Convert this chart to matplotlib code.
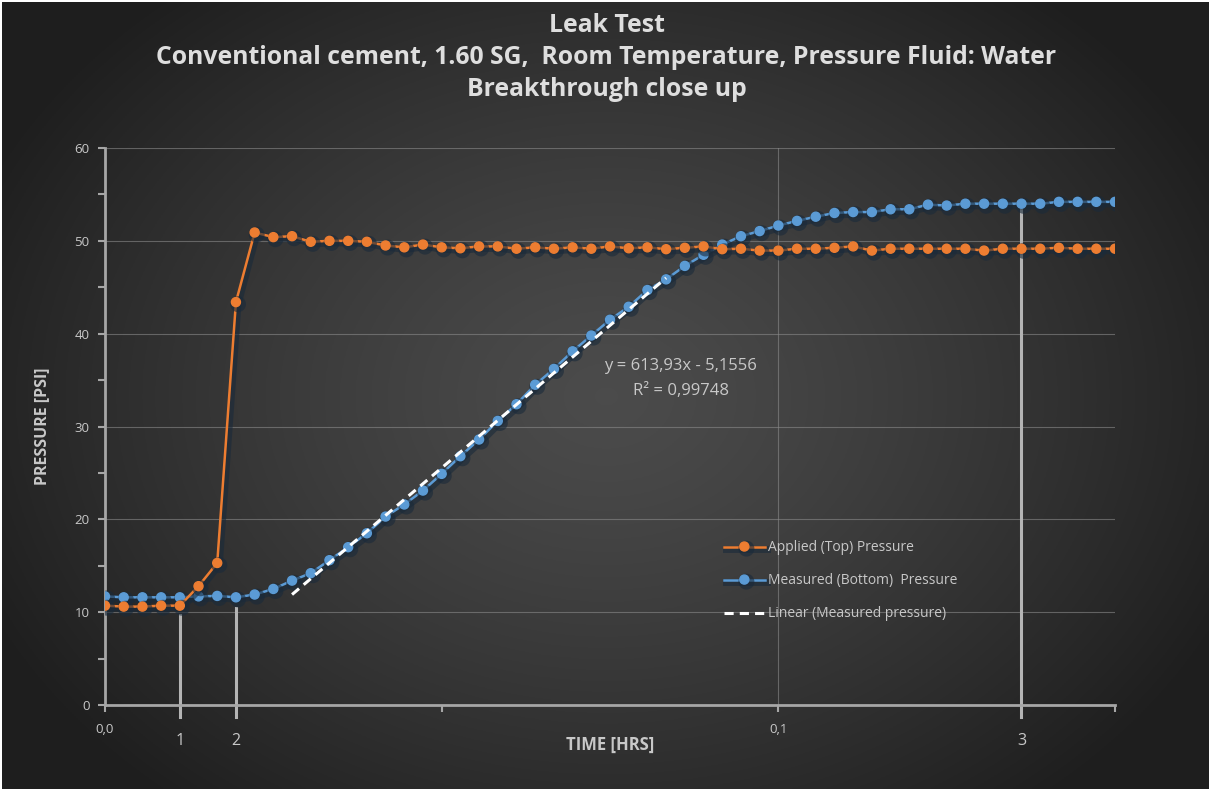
import numpy as np
import matplotlib
matplotlib.use("Agg")
import matplotlib.pyplot as plt
import matplotlib.patheffects as pe

# samples logged every 10 s, time axis in hours
elapsed_s = np.arange(0, 550, 10)
time_hrs = elapsed_s / 3600.0

applied_top = [10.7, 10.6, 10.6, 10.7, 10.7, 12.8, 15.3, 43.4, 50.9,
               50.4, 50.5, 49.9, 50.0, 50.0, 49.9, 49.5, 49.3, 49.6,
               49.3, 49.2, 49.4, 49.4, 49.15, 49.3, 49.15, 49.3, 49.15, 49.4, 49.2, 49.3, 49.1, 49.25,
               49.4, 49.1, 49.15, 48.95, 48.95, 49.15, 49.15, 49.25, 49.4, 48.95, 49.15, 49.15,
               49.15, 49.15, 49.15, 48.95, 49.15, 49.15, 49.15, 49.25, 49.15, 49.15, 49.15]

measured_bottom = [11.7, 11.6, 11.6, 11.6, 11.6, 11.7, 11.75, 11.6, 11.9,
                   12.5, 13.4, 14.2, 15.6, 17.0, 18.5, 20.3, 21.6, 23.1, 24.9,
                   26.8, 28.6, 30.6, 32.4, 34.5, 36.2, 38.1, 39.8, 41.5, 42.9, 44.7, 45.85, 47.3,
                   48.5, 49.6, 50.5, 51.05, 51.65, 52.15, 52.6, 53.0, 53.1, 53.1, 53.4, 53.4,
                   53.9, 53.8, 54.0, 54.0, 54.0, 54.0, 54.0, 54.2, 54.2, 54.2, 54.2]

# linear fit of the breakthrough section
fit_slope = 613.93
fit_intercept = -5.1556
fit_r2 = 0.99748
fit_range = (10, 30)

# event markers (sample index, label, top of marker line)
event_idx = [4, 7, 49]
event_labels = ["1", "2", "3"]
event_tops = [9.7, 10.5, 53.9]

ORANGE = "#ED7D31"
BLUE = "#5B9BD5"
TXT = "#c8c8c8"
AXC = "#a6a6a6"

plt.rcParams["font.family"] = ["Open Sans", "DejaVu Sans"]

fig = plt.figure(figsize=(12.13, 7.89), dpi=100, facecolor="white")

# dark radial background
bg = fig.add_axes([0.002, 0.0, 0.995, 0.997])
yy, xx = np.mgrid[0:400, 0:600]
r = np.sqrt(((xx - 300) / 330.0) ** 2 + ((yy - 200) / 260.0) ** 2)
shade = np.clip(0.295 - 0.17 * r ** 1.3, 0.12, 0.30)
bg.imshow(np.dstack([shade] * 3), aspect="auto", extent=[0, 1, 0, 1])
bg.axis("off")

ax = fig.add_axes([105 / 1213, 1 - 705 / 789, 1010 / 1213, 557 / 789])
ax.set_facecolor("none")

shadow = [pe.SimpleLineShadow(offset=(1.5, -1.5), shadow_color="#1a2a3a", alpha=0.6, linewidth=5),
          pe.Normal()]

ax.plot(time_hrs, applied_top, color=ORANGE, lw=1.8, marker="o", ms=6.5,
        label="Applied (Top) Pressure", zorder=4, path_effects=shadow)
ax.plot(time_hrs, measured_bottom, color=BLUE, lw=1.8, marker="o", ms=6.5,
        label="Measured (Bottom)  Pressure", zorder=3, path_effects=shadow)

fx = np.array([time_hrs[fit_range[0]], time_hrs[fit_range[1]]])
ax.plot(fx, fit_slope * fx + fit_intercept, color="white", lw=2.2, ls=(0, (3, 2)),
        label="Linear (Measured pressure)", zorder=5)

ax.text(0.0855, 36.5, f"y = {fit_slope:.2f}x - {abs(fit_intercept):.4f}".replace(".", ","),
        ha="center", va="center", color=TXT, fontsize=12)
ax.text(0.0855, 33.8, f"R² = {fit_r2:.5f}".replace(".", ","),
        ha="center", va="center", color=TXT, fontsize=12)

for i, lab, top in zip(event_idx, event_labels, event_tops):
    ax.plot([time_hrs[i], time_hrs[i]], [-1.3, top], color="#b4b4b4", lw=2.2,
            clip_on=False, zorder=2)
    ax.text(time_hrs[i], -3.9, lab, ha="center", va="center", color=TXT, fontsize=11.5)

ax.set_xlim(0, 0.15)
ax.set_ylim(0, 60)
ax.set_yticks(range(0, 61, 10))
ax.set_yticks(range(5, 60, 10), minor=True)
ax.set_xticks([0, 0.1])
ax.set_xticklabels(["0,0", "0,1"])
ax.set_xticks([0.05, 0.15], minor=True)

ax.grid(axis="y", which="major", color="#8a8a8a", lw=0.8, alpha=0.6)
ax.axvline(0.1, color="#8a8a8a", lw=0.8, alpha=0.6, zorder=0)

for s in ("top", "right"):
    ax.spines[s].set_visible(False)
for s in ("left", "bottom"):
    ax.spines[s].set_color(AXC)
    ax.spines[s].set_linewidth(2)
ax.tick_params(which="both", colors=AXC, width=1.5, length=5)
ax.tick_params(axis="both", labelcolor=TXT, labelsize=9.5)
ax.tick_params(axis="x", pad=8)
ax.tick_params(axis="y", pad=6)

ax.set_xlabel("TIME [HRS]", color=TXT, fontsize=12, fontweight="bold", labelpad=0)
ax.set_ylabel("PRESSURE [PSI]", color=TXT, fontsize=11.5, fontweight="bold", labelpad=18)

leg = ax.legend(loc="upper left", bbox_to_anchor=(0.6, 0.318), frameon=False,
                fontsize=10, labelcolor=TXT, handlelength=3.0, handletextpad=0.2,
                labelspacing=1.3)

title_kw = dict(ha="center", va="center", color="#dedede", fontsize=17.8, fontweight="bold")
fig.text(0.5, 1 - 25 / 789, "Leak Test", **title_kw)
fig.text(0.5, 1 - 58 / 789,
         "Conventional cement, 1.60 SG,  Room Temperature, Pressure Fluid: Water", **title_kw)
fig.text(0.5, 1 - 89 / 789, "Breakthrough close up", **title_kw)

fig.savefig("out.png", dpi=100, facecolor="white")
